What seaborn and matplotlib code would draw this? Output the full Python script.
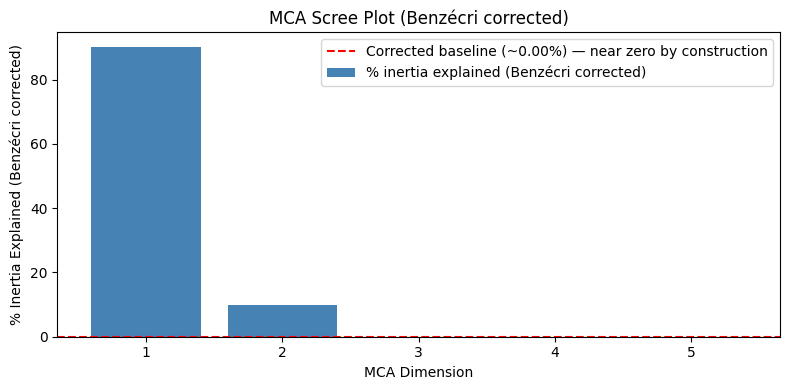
import pandas as pd
import seaborn as sns
import matplotlib.pyplot as plt

dimensions = [1, 2, 3, 4, 5]
inertia_pct = [90.2, 9.8, 0.0, 0.0, 0.0]
baseline = 0.0

df = pd.DataFrame({"dim": dimensions, "pct": inertia_pct})

fig, ax = plt.subplots(figsize=(8, 4), dpi=100)
sns.barplot(data=df, x="dim", y="pct", color="steelblue", saturation=1,
            width=0.8, native_scale=True, label="% inertia explained (Benzécri corrected)", ax=ax)
ax.axhline(baseline, color="red", linestyle="--",
           label=f"Corrected baseline (~{baseline:.2f}%) — near zero by construction")
ax.set_xticks(dimensions)
ax.set_xlim(0.35, 5.65)
ax.set_ylim(0, max(inertia_pct) * 1.05)
ax.set_title("MCA Scree Plot (Benzécri corrected)")
ax.set_xlabel("MCA Dimension")
ax.set_ylabel("% Inertia Explained (Benzécri corrected)")
ax.legend(loc="upper right")
plt.tight_layout()
plt.savefig("out.png", bbox_inches="tight")
